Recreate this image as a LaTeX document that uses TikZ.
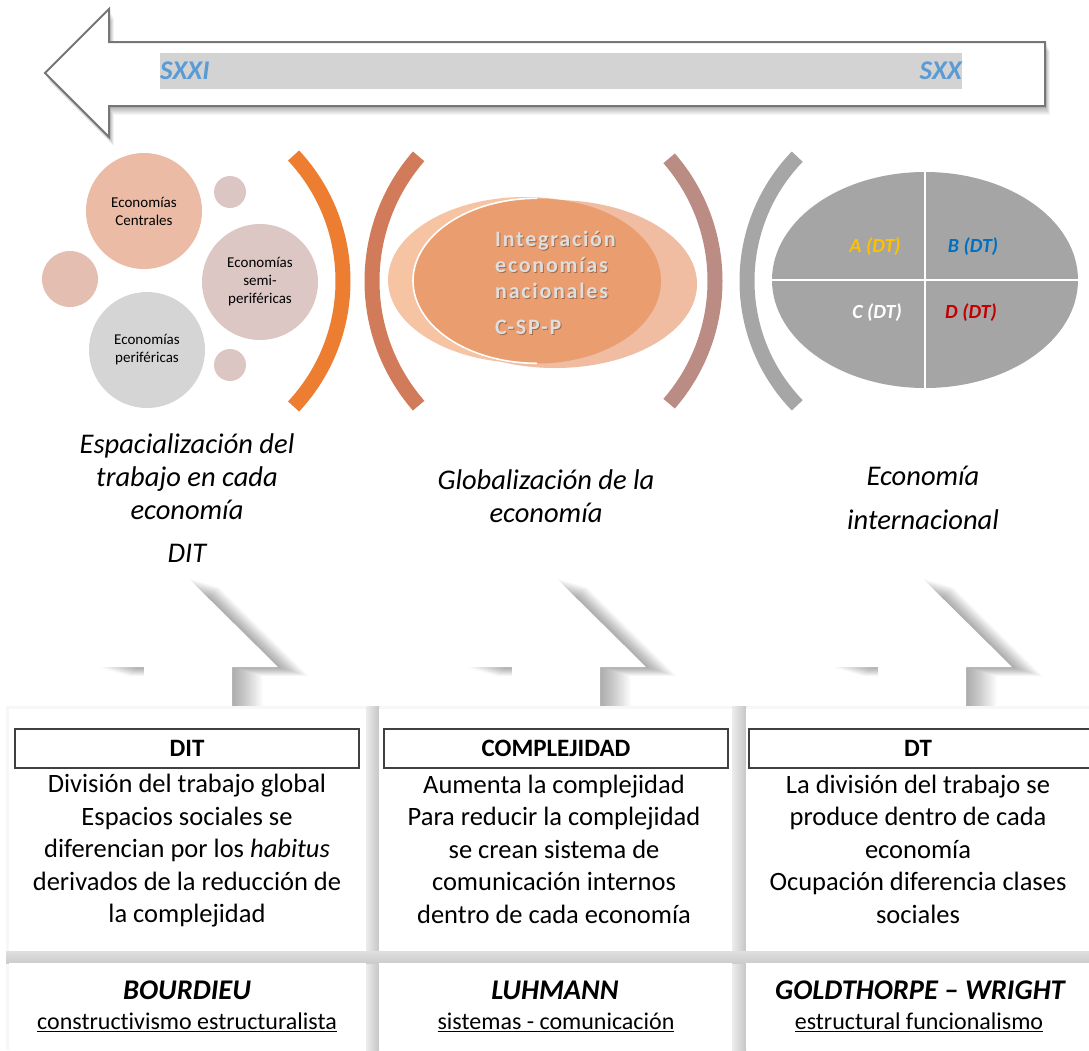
\documentclass[tikz,border=0pt]{standalone}
\usepackage{fontspec}
\setmainfont{Carlito}[Ligatures=NoCommon]
\newfontfamily\spacedfont[LetterSpace=8,Ligatures=NoCommon]{Carlito}
\usetikzlibrary{shapes.geometric}

\definecolor{sxblue}{HTML}{5B9BD5}
\definecolor{bandgray}{HTML}{D3D3D3}
\definecolor{arrowline}{HTML}{767676}
\definecolor{ccentral}{HTML}{EBBBA6}
\definecolor{csmall}{HTML}{DCC6C4}
\definecolor{cleft}{HTML}{E5BEB2}
\definecolor{csemi}{HTML}{DDC7C5}
\definecolor{cperif}{HTML}{D5D5D5}
\definecolor{arcorange}{HTML}{ED7D31}
\definecolor{arcrust}{HTML}{D17B5A}
\definecolor{arcmauve}{HTML}{BA8C84}
\definecolor{arcgray}{HTML}{A6A6A6}
\definecolor{ellA}{HTML}{F6C4A2}
\definecolor{ellB}{HTML}{F0BCA2}
\definecolor{ellF}{HTML}{EA9D6F}
\definecolor{ellgray}{HTML}{A5A5A5}
\definecolor{intext}{HTML}{DEDEDE}
\definecolor{dtA}{HTML}{FFC000}
\definecolor{dtB}{HTML}{0070C0}
\definecolor{dtD}{HTML}{C00000}
\definecolor{hdrline}{HTML}{404040}

\newcommand\toparrowpath{(45,73) -- (109,9) -- (109,42) -- (1045,42) -- (1045,106) -- (109,106) -- (109,137) -- cycle}
\newcommand\uparrowpath[1]{({#1},578) -- ({#1+90},667) -- ({#1+44},667) -- ({#1+44},708) -- ({#1-44},708) -- ({#1-44},667) -- ({#1-90},667) -- cycle}

\begin{document}
\begin{tikzpicture}[x=1pt,y=-1pt,
  circ/.style={circle,inner sep=0pt,align=center,font=\fontsize{15}{18}\selectfont},
  sx/.style={font=\bfseries\itshape\fontsize{27}{30}\selectfont,text=sxblue,inner sep=0pt},
  dtlab/.style={font=\bfseries\itshape\fontsize{20}{24}\selectfont,inner sep=0pt},
  captiontext/.style={align=center,font=\itshape\fontsize{28.5}{33}\selectfont,inner sep=0pt},
  bodytext/.style={align=center,font=\fontsize{26.5}{32.5}\selectfont,inner sep=0pt},
  hdrbox/.style={draw=hdrline,line width=1.2pt,minimum height=39pt,inner sep=0pt},
  hdrtext/.style={font=\bfseries\fontsize{25}{30}\selectfont,inner sep=0pt},
  author/.style={font=\bfseries\itshape\fontsize{28.5}{32}\selectfont,inner sep=0pt},
  school/.style={font=\fontsize{24}{28}\selectfont,inner sep=0pt},
  intg/.style={font=\spacedfont\bfseries\fontsize{22}{26}\selectfont,anchor=base west,inner sep=0pt},
  bigarc/.style={line width=15pt},
]
\useasboundingbox (0,0) rectangle (1089,1050);
\fill[white] (0,0) rectangle (1089,1050);

% ---------- top arrow ----------
\foreach \k in {1,...,8} {
  \fill[black,opacity=0.045,xshift=\k*0.6pt,yshift=-\k*1.1pt] \toparrowpath;
}
\filldraw[fill=white,draw=arrowline,line width=2pt,line join=miter] \toparrowpath;
\fill[bandgray] (160,53) rectangle (962,89);
\node[sx,anchor=west] (sxxi) at (160,71) {SXXI};
\node[sx,anchor=east] (sxx) at (962,71) {SXX};

% ---------- left circles ----------
\node[circ,fill=ccentral,minimum size=116pt] (centrales) at (144,211) {Economías\\Centrales};
\node[circ,fill=csmall,minimum size=32pt] (smallA) at (230,192) {};
\node[circ,fill=cleft,minimum size=56pt] (leftc) at (70,279) {};
\node[circ,fill=csemi,minimum size=116pt] (semi) at (260,282) {Economías\\semi-\\periféricas};
\node[circ,fill=cperif,minimum size=116pt] (perif) at (147,350) {Economías\\periféricas};
\node[circ,fill=csmall,minimum size=32pt] (smallB) at (230,365) {};

\draw[bigarc,arcorange] (159,281) ++(-43:184) arc[start angle=-43,end angle=43,radius=184];

% ---------- middle ----------
\draw[bigarc,arcrust] (562,281) ++(139:190) arc[start angle=139,end angle=221,radius=190];
\draw[bigarc,arcmauve] (528,281) ++(-41:187) arc[start angle=-41,end angle=41,radius=187];

\node[ellipse,fill=ellA,minimum width=274pt,minimum height=166pt,inner sep=0pt] (ellback1) at (525,280) {};
\node[ellipse,fill=ellB,minimum width=284pt,minimum height=168pt,inner sep=0pt] (ellback2) at (555,284) {};
\node[ellipse,fill=ellF,minimum width=248pt,minimum height=165pt,inner sep=0pt] (ellfront) at (537,281) {};
\draw[white,line width=1.6pt] (ellfront.north) arc[start angle=-90,end angle=-270,x radius=124,y radius=82.5];

\foreach \t/\yy/\nm in {Integración/246/ia,economías/272/ib,nacionales/298/ic,C-SP-P/334/id} {
  \node[intg,text=black,opacity=0.3] (\nm s) at (496,\yy+1) {\t};
  \node[intg,text=intext] (\nm) at (495,\yy) {\t};
}

% ---------- right ----------
\draw[bigarc,arcgray] (926,281) ++(136:179) arc[start angle=136,end angle=224,radius=179];
\node[ellipse,fill=ellgray,minimum width=306pt,minimum height=216pt,inner sep=0pt] (grayell) at (925,280) {};
\draw[white,line width=2.5pt] (grayell.north) -- (grayell.south);
\draw[white,line width=2.5pt] (grayell.west) -- (grayell.east);
\node[dtlab,text=dtA] (dta) at (875,247) {A (DT)};
\node[dtlab,text=dtB] (dtb) at (973,247) {B (DT)};
\node[dtlab,text=white] (dtc) at (877,313) {C (DT)};
\node[dtlab,text=dtD] (dtd) at (971,313) {D (DT)};

% ---------- captions ----------
\node[captiontext] (cap1) at (187,477) {Espacialización del\\trabajo en cada\\economía};
\node[captiontext] (cap1b) at (187,553) {DIT};
\node[captiontext] (cap2) at (546,496) {Globalización de la\\economía};
\node[captiontext] (cap3a) at (923,476) {Economía};
\node[captiontext] (cap3b) at (923,520) {internacional};

% ---------- up arrows ----------
\foreach \cx/\nm in {188/ua,556/ub,922/uc} {
  \foreach \k in {1,...,18} {
    \fill[black,opacity=0.02,xshift=\k*1.7pt,yshift=-\k*0.5pt] \uparrowpath{\cx};
  }
  \fill[white] \uparrowpath{\cx};
  \coordinate (\nm) at (\cx,578);
}

% ---------- table ----------
\fill[gray!6] (6,706) rectangle (1089,1050);
\shade[left color=gray!15,right color=gray!45] (366,706) rectangle (379,1050);
\shade[left color=gray!15,right color=gray!45] (732,706) rectangle (746,1050);
\shade[top color=gray!25,bottom color=gray!40] (6,951) rectangle (1089,963);
\fill[white] (9,709) rectangle (366,951);
\fill[white] (379,709) rectangle (732,951);
\fill[white] (746,709) rectangle (1089,951);
\fill[white] (9,963) rectangle (366,1050);
\fill[white] (379,963) rectangle (732,1050);
\fill[white] (746,963) rectangle (1089,1050);

\node[hdrbox,hdrtext,minimum width=344pt] (hdr1) at (187,748.5) {DIT};
\node[hdrbox,hdrtext,minimum width=344pt] (hdr2) at (556,748.5) {COMPLEJIDAD};
\node[hdrbox,minimum width=346pt] (hdr3) at (922,748.5) {};
\node[hdrtext] (hdr3t) at (918,748.5) {DT};

\node[bodytext] (body1) at (187,851) {División del trabajo global\\Espacios sociales se\\diferencian por los \textit{habitus}\\derivados de la reducción de\\la complejidad};
\node[bodytext] (body2) at (554,849) {Aumenta la complejidad\\Para reducir la complejidad\\se crean sistema de\\comunicación internos\\dentro de cada economía};
\node[bodytext] (body3) at (918,849) {La división del trabajo se\\produce dentro de cada\\economía\\Ocupación diferencia clases\\sociales};

\node[author] (auth1) at (187,990) {BOURDIEU};
\node[school] (sch1) at (187,1022) {\underline{constructivismo estructuralista}};
\node[author] (auth2) at (555,990) {LUHMANN};
\node[school] (sch2) at (556,1022) {\underline{sistemas - comunicación}};
\node[author] (auth3) at (920,990) {GOLDTHORPE – WRIGHT};
\node[school] (sch3) at (919,1022) {\underline{estructural funcionalismo}};
\end{tikzpicture}
\end{document}
